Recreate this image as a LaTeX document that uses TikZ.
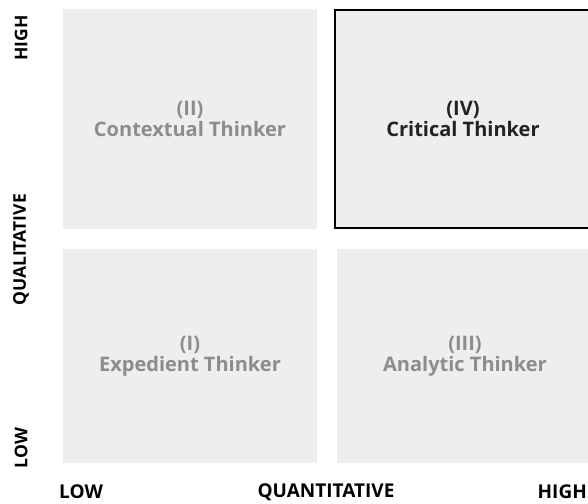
\documentclass[tikz,border=0pt]{standalone}
\usepackage{fontspec}
\setmainfont{Open Sans}
\usepackage{xcolor}
\usetikzlibrary{positioning}
\definecolor{quadfill}{HTML}{EDEEF0}
\definecolor{quadtext}{HTML}{8C8C8C}
\definecolor{hitext}{HTML}{222222}
\begin{document}
\begin{tikzpicture}[x=1pt, y=-1pt,
    quad/.style={fill=quadfill, draw=none, inner sep=0pt, align=center,
        text=quadtext, font=\fontsize{20}{21}\selectfont\bfseries},
    axislab/.style={font=\fontsize{19}{20}\selectfont\bfseries, inner sep=0pt},
    sidelab/.style={font=\fontsize{17.5}{18}\selectfont\bfseries, inner sep=0pt, rotate=90}]
            \useasboundingbox (0,0) rectangle (588,503);
            \clip (0,0) rectangle (588,503);

            % Quadrants
            \node[quad, minimum width=254pt, minimum height=220pt] (q2) at (190,119) {(II)\\Contextual Thinker};
            \node[quad, minimum width=254pt, minimum height=214pt] (q1) at (190,356) {(I)\\Expedient Thinker};
            \node[quad, minimum width=256pt, minimum height=214pt] (q3) at (465,356) {(III)\\Analytic Thinker};
            \node[quad, text=hitext, draw=black, line width=2pt, minimum width=256pt, minimum height=218pt] (q4) at (463,119) {(IV)\\Critical Thinker};

            % Vertical axis
            \node[sidelab] (yhigh) at (21,38) {HIGH};
            \node[sidelab] (yname) at (21,250) {QUALITATIVE};
            \node[sidelab] (ylow) at (21,448) {LOW};

            % Horizontal axis
            \node[axislab, anchor=west] (xlow) at (59,492) {LOW};
            \node[axislab] (xname) at (326,492) {QUANTITATIVE};
            \node[axislab, anchor=east] (xhigh) at (587,492) {HIGH};
        \end{tikzpicture}
\end{document}
